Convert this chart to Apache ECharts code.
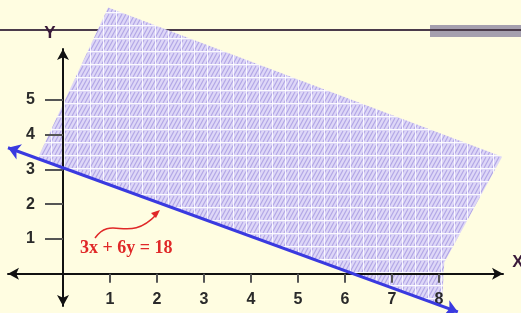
<!DOCTYPE html>
<html>
<head>
<meta charset="utf-8">
<script src="https://cdn.jsdelivr.net/npm/echarts@6/dist/echarts.min.js"></script>
<style>
  html, body { margin: 0; padding: 0; background: #fffde1; }
  #chart { width: 521px; height: 313px; }
</style>
</head>
<body>
<div id="chart"></div>
<script>
// tick labels on each axis
let xTicks = [1, 2, 3, 4, 5, 6, 7, 8];
let yTicks = [1, 2, 3, 4, 5];

// the line 3x + 6y = 18, read at both arrow heads
let lineStart = [-1.17, 3.62];
let lineEnd = [8.4, -1.1];

// corners of the shaded half-plane patch
let shadeX = [0.96, 9.34, 8.11, 8.06, -0.55];
let shadeY = [7.65, 3.36, 0.32, -0.93, 3.28];

function makePattern() {
    let c = document.createElement('canvas');
    c.width = 13;
    c.height = 13;
    let ctx = c.getContext('2d');
    ctx.fillStyle = 'rgb(222,215,247)';
    ctx.fillRect(0, 0, 13, 13);
    ctx.strokeStyle = 'rgb(178,167,230)';
    ctx.lineWidth = 1.2;
    for (let i = -13; i < 26; i += 4) {
        ctx.beginPath();
        ctx.moveTo(i, 12);
        ctx.lineTo(i + 6, 1);
        ctx.stroke();
    }
    ctx.fillStyle = 'rgba(255,255,255,0.85)';
    ctx.fillRect(12, 0, 1, 13);
    ctx.fillRect(0, 12, 13, 1);
    return c;
}

let chart = echarts.init(document.getElementById('chart'));
let labelFont = {
    color: '#2a2a2a',
    fontFamily: 'Liberation Sans',
    fontWeight: 'bold',
    fontSize: 16
};

let option = {
    backgroundColor: '#fffde1',
    animation: false,
    grid: { left: 8, right: 18, top: 49, bottom: 7, outerBoundsMode: 'none', containLabel: false },
    xAxis: {
        type: 'value',
        z: 3,
        min: -1.17,
        max: 9.36,
        axisLine: {
            onZero: true,
            symbol: ['arrow', 'arrow'],
            symbolSize: [9, 11],
            lineStyle: { color: '#111', width: 2 }
        },
        axisTick: { customValues: xTicks, length: 9, inside: false, lineStyle: { color: '#555', width: 2 } },
        axisLabel: Object.assign({ customValues: xTicks, margin: -14, showMaxLabel: true, hideOverlap: false }, labelFont),
        splitLine: { show: false }
    },
    yAxis: {
        type: 'value',
        z: 3,
        min: -0.93,
        max: 6.46,
        axisLine: {
            onZero: true,
            symbol: ['arrow', 'arrow'],
            symbolSize: [9, 11],
            lineStyle: { color: '#111', width: 2 }
        },
        axisTick: { customValues: yTicks, length: 18, lineStyle: { color: '#555', width: 2 } },
        axisLabel: Object.assign({ customValues: yTicks, margin: -27 }, labelFont),
        splitLine: { show: false }
    },
    graphic: [
        { type: 'line', z: 0, shape: { x1: 0, y1: 30, x2: 521, y2: 30 }, style: { stroke: '#4b3b4b', lineWidth: 2 } },
        { type: 'rect', z: 0, shape: { x: 430, y: 25, width: 91, height: 12 }, style: { fill: '#a59fae' } },
        { type: 'line', z: 0, shape: { x1: 430, y1: 30, x2: 521, y2: 30 }, style: { stroke: '#4b3b4b', lineWidth: 2 } },
        { type: 'text', z: 10, x: 50, y: 33, style: { text: 'Y', fill: '#3a1a3a', font: 'bold 17px Liberation Sans', align: 'center', verticalAlign: 'middle' } },
        { type: 'text', z: 10, x: 518, y: 262, style: { text: 'X', fill: '#3a1a3a', font: 'bold 17px Liberation Sans', align: 'center', verticalAlign: 'middle' } },
        { type: 'text', z: 100, x: 80, y: 248, style: { text: '3x + 6y = 18', fill: '#e02828', font: 'bold 18px Liberation Serif', verticalAlign: 'middle' } },
        {
            type: 'bezierCurve', z: 100,
            shape: { x1: 95, y1: 238, cpx1: 112, cpy1: 214, x2: 157, y2: 214, cpx2: 128, cpy2: 245 },
            style: { stroke: '#e02828', lineWidth: 1.5, fill: null }
        },
        { type: 'polygon', z: 100, shape: { points: [[160, 210], [151, 213], [156, 218]] }, style: { fill: '#e02828' } }
    ],
    series: [
        {
            type: 'custom',
            coordinateSystem: 'cartesian2d',
            clip: false,
            z: 1,
            data: [0],
            renderItem: function (params, api) {
                let pts = shadeX.map(function (x, i) { return api.coord([x, shadeY[i]]); });
                return {
                    type: 'polygon',
                    shape: { points: pts, smooth: 0 },
                    style: { fill: { image: makePattern(), repeat: 'repeat' } }
                };
            }
        },
        {
            type: 'lines',
            coordinateSystem: 'cartesian2d',
            clip: false,
            z: 5,
            symbol: ['arrow', 'arrow'],
            symbolSize: 12,
            lineStyle: { color: '#3a3ae0', width: 3, opacity: 1 },
            data: [{ coords: [lineStart, lineEnd] }]
        }
    ]
};
chart.setOption(option);
</script>
</body>
</html>
